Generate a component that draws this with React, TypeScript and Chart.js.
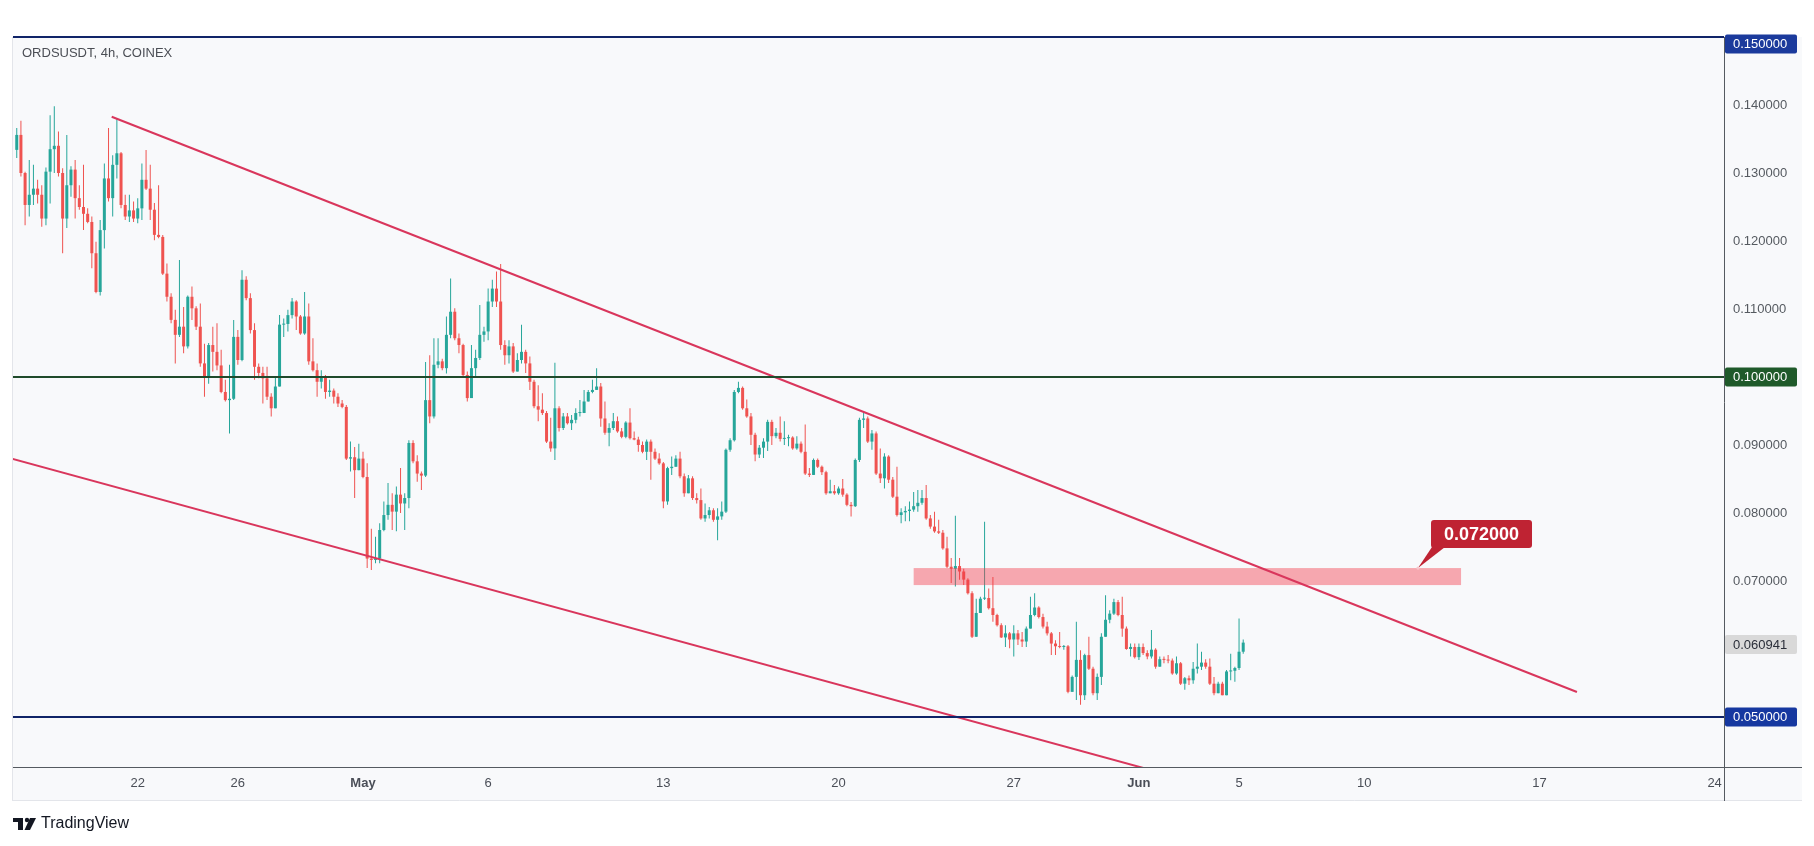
import React, { useEffect, useRef } from "react";
import { Chart, registerables } from "chart.js";

Chart.register(...registerables);

// ---- time axis: days relative to May 1 00:00, 4h bars ----
const firstBarDay = -14 + 1 / 6; // Apr 17 04:00
const barStepDays = 1 / 6;
const firstOpen = 0.1334;

const closes = [
  0.1356, 0.1300, 0.1253, 0.1268, 0.1277, 0.1268, 0.1233, 0.1302, 0.1335, 0.1340,
  0.1300, 0.1233, 0.1282, 0.1305, 0.1263, 0.1250, 0.1240, 0.1228, 0.1182, 0.1125,
  0.1216, 0.1292, 0.1263, 0.1312, 0.1329, 0.1253, 0.1236, 0.1245, 0.1233, 0.1248,
  0.1290, 0.1277, 0.1246, 0.1209, 0.1206, 0.1152, 0.1118, 0.1084, 0.1062, 0.1074,
  0.1045, 0.1118, 0.1101, 0.1074, 0.1020, 0.1001, 0.1047, 0.1037, 0.1017, 0.0978,
  0.0966, 0.0968, 0.1059, 0.1025, 0.1143, 0.1116, 0.1069, 0.1015, 0.1006, 0.0998,
  0.0971, 0.0954, 0.0986, 0.1077, 0.1078, 0.1091, 0.1111, 0.1089, 0.1064, 0.1089,
  0.1023, 0.1010, 0.0993, 0.1000, 0.0978, 0.0980, 0.0971, 0.0961, 0.0956, 0.0880,
  0.0882, 0.0863, 0.0880, 0.0853, 0.0733, 0.0731, 0.0733, 0.0775, 0.0797, 0.0812,
  0.0802, 0.0827, 0.0814, 0.0822, 0.0903, 0.0876, 0.0858, 0.0855, 0.0966, 0.0942,
  0.1018, 0.1023, 0.1013, 0.1062, 0.1096, 0.1057, 0.1047, 0.1003, 0.0969, 0.1013,
  0.1028, 0.1062, 0.1067, 0.1111, 0.1130, 0.1111, 0.1047, 0.1032, 0.1045, 0.1008,
  0.1025, 0.1037, 0.1020, 0.0993, 0.0957, 0.0952, 0.0947, 0.0905, 0.0895, 0.0954,
  0.0925, 0.0942, 0.0932, 0.0937, 0.0947, 0.0947, 0.0964, 0.0978, 0.0981, 0.0986,
  0.0939, 0.0918, 0.0925, 0.0935, 0.0920, 0.0912, 0.0933, 0.0910, 0.0908, 0.0900,
  0.0890, 0.0905, 0.0890, 0.0880, 0.0873, 0.0817, 0.0866, 0.0868, 0.0880, 0.0854,
  0.0829, 0.0851, 0.0822, 0.0819, 0.0792, 0.0797, 0.0804, 0.0790, 0.0795, 0.0802,
  0.0893, 0.0907, 0.0978, 0.0984, 0.0954, 0.0942, 0.0915, 0.0886, 0.0896, 0.0905,
  0.0934, 0.0913, 0.0918, 0.0909, 0.0910, 0.0911, 0.0895, 0.0902, 0.0890, 0.0858,
  0.0856, 0.0878, 0.0868, 0.0860, 0.0829, 0.0832, 0.0829, 0.0836, 0.0827, 0.0812,
  0.0810, 0.0878, 0.0937, 0.0939, 0.0905, 0.0917, 0.0858, 0.0851, 0.0883, 0.0849,
  0.0824, 0.0797, 0.0801, 0.0803, 0.0805, 0.0810, 0.0815, 0.0822, 0.0792, 0.0780,
  0.0773, 0.0771, 0.0748, 0.0721, 0.0718, 0.0722, 0.0714, 0.0702, 0.0682, 0.0618,
  0.0653, 0.0674, 0.0675, 0.0660, 0.0650, 0.0635, 0.0617, 0.0623, 0.0614, 0.0623,
  0.0614, 0.0611, 0.0630, 0.0650, 0.0661, 0.0647, 0.0633, 0.0623, 0.0608, 0.0604,
  0.0603, 0.0604, 0.0537, 0.0559, 0.0584, 0.0532, 0.0591, 0.0571, 0.0535, 0.0559,
  0.0618, 0.0643, 0.0652, 0.0669, 0.0650, 0.0630, 0.0600, 0.0603, 0.0588, 0.0603,
  0.0594, 0.0589, 0.0599, 0.0574, 0.0585, 0.0584, 0.0583, 0.0564, 0.0579, 0.0549,
  0.0557, 0.0554, 0.0571, 0.0574, 0.0580, 0.0574, 0.0549, 0.0535, 0.0549, 0.0532,
  0.0567, 0.0568, 0.0572, 0.0596, 0.060941,
];

const highs = [
  0.1366, 0.1377, 0.1302, 0.1319, 0.1312, 0.1290, 0.1282, 0.1308, 0.1385, 0.1398,
  0.1361, 0.1307, 0.1356, 0.1310, 0.1319, 0.1282, 0.1312, 0.1248, 0.1236, 0.1199,
  0.1231, 0.1314, 0.1366, 0.1326, 0.1380, 0.1331, 0.1268, 0.1268, 0.1258, 0.1263,
  0.1314, 0.1334, 0.1312, 0.1256, 0.1282, 0.1209, 0.1167, 0.1123, 0.1099, 0.1172,
  0.1103, 0.1120, 0.1133, 0.1104, 0.1108, 0.1049, 0.1050, 0.1074, 0.1079, 0.1040,
  0.0996, 0.1018, 0.1084, 0.1069, 0.1157, 0.1148, 0.1123, 0.1079, 0.1020, 0.1015,
  0.1015, 0.0976, 0.1000, 0.1091, 0.1086, 0.1099, 0.1116, 0.1113, 0.1091, 0.1125,
  0.1108, 0.1057, 0.1020, 0.1010, 0.1003, 0.0996, 0.0983, 0.0976, 0.0966, 0.0959,
  0.0905, 0.0897, 0.0902, 0.0890, 0.0873, 0.0777, 0.0765, 0.0785, 0.0817, 0.0844,
  0.0829, 0.0839, 0.0866, 0.0829, 0.0907, 0.0907, 0.0885, 0.0861, 0.1022, 0.1032,
  0.1057, 0.1057, 0.1027, 0.1089, 0.1145, 0.1101, 0.1064, 0.1049, 0.1008, 0.1047,
  0.1040, 0.1106, 0.1074, 0.1130, 0.1143, 0.1155, 0.1166, 0.1054, 0.1054, 0.1050,
  0.1035, 0.1077, 0.1040, 0.1030, 0.0996, 0.0988, 0.0976, 0.0950, 0.0940, 0.1021,
  0.0957, 0.0947, 0.0947, 0.0944, 0.0954, 0.0966, 0.0981, 0.0981, 0.0996, 0.1013,
  0.0991, 0.0964, 0.0932, 0.0947, 0.0942, 0.0925, 0.0935, 0.0954, 0.0920, 0.0912,
  0.0905, 0.0908, 0.0908, 0.0895, 0.0888, 0.0875, 0.0868, 0.0883, 0.0885, 0.0890,
  0.0858, 0.0856, 0.0854, 0.0829, 0.0836, 0.0814, 0.0809, 0.0807, 0.0807, 0.0817,
  0.0895, 0.0910, 0.0981, 0.0993, 0.0986, 0.0967, 0.0947, 0.0918, 0.0900, 0.0910,
  0.0937, 0.0937, 0.0925, 0.0942, 0.0935, 0.0915, 0.0913, 0.0913, 0.0905, 0.0930,
  0.0866, 0.0880, 0.0880, 0.0870, 0.0862, 0.0849, 0.0841, 0.0839, 0.0850, 0.0829,
  0.0816, 0.0880, 0.0940, 0.0949, 0.0942, 0.0922, 0.0920, 0.0895, 0.0888, 0.0885,
  0.0853, 0.0868, 0.0807, 0.0810, 0.0817, 0.0831, 0.0834, 0.0834, 0.0841, 0.0797,
  0.0802, 0.0790, 0.0775, 0.0765, 0.0734, 0.0796, 0.0734, 0.0718, 0.0704, 0.0685,
  0.0674, 0.0677, 0.0787, 0.0689, 0.0706, 0.0652, 0.0638, 0.0635, 0.0625, 0.0635,
  0.0628, 0.0625, 0.0633, 0.0677, 0.0682, 0.0663, 0.0652, 0.0640, 0.0625, 0.0613,
  0.0625, 0.0606, 0.0606, 0.0561, 0.0640, 0.0598, 0.0593, 0.0618, 0.0574, 0.0564,
  0.0623, 0.0679, 0.0657, 0.0674, 0.0672, 0.0677, 0.0633, 0.0608, 0.0608, 0.0608,
  0.0608, 0.0598, 0.0628, 0.0601, 0.0589, 0.0589, 0.0591, 0.0586, 0.0589, 0.0581,
  0.0559, 0.0561, 0.0581, 0.0608, 0.0596, 0.0585, 0.0586, 0.0559, 0.0552, 0.0552,
  0.0569, 0.0593, 0.0574, 0.0645, 0.0614,
];

const lows = [
  0.1322, 0.1295, 0.1223, 0.1236, 0.1253, 0.1255, 0.1221, 0.1223, 0.1255, 0.1300,
  0.1295, 0.1182, 0.1219, 0.1265, 0.1233, 0.1246, 0.1216, 0.1226, 0.1160, 0.1123,
  0.1120, 0.1189, 0.1258, 0.1236, 0.1292, 0.1248, 0.1231, 0.1228, 0.1228, 0.1226,
  0.1231, 0.1275, 0.1231, 0.1201, 0.1204, 0.1150, 0.1111, 0.1079, 0.1020, 0.1059,
  0.1035, 0.1042, 0.1084, 0.1069, 0.1015, 0.0971, 0.0990, 0.1008, 0.1010, 0.0976,
  0.0964, 0.0917, 0.0966, 0.1018, 0.1023, 0.1113, 0.1064, 0.0996, 0.0998, 0.0961,
  0.0966, 0.0942, 0.0954, 0.0986, 0.1059, 0.1067, 0.1086, 0.1069, 0.1062, 0.1062,
  0.1018, 0.1008, 0.0971, 0.0983, 0.0968, 0.0971, 0.0961, 0.0956, 0.0954, 0.0878,
  0.0861, 0.0822, 0.0863, 0.0851, 0.0719, 0.0716, 0.0726, 0.0726, 0.0773, 0.0790,
  0.0775, 0.0773, 0.0800, 0.0775, 0.0807, 0.0873, 0.0846, 0.0834, 0.0853, 0.0932,
  0.0939, 0.1013, 0.1010, 0.1005, 0.1057, 0.1054, 0.1035, 0.1001, 0.0964, 0.0971,
  0.1000, 0.1025, 0.1052, 0.1054, 0.1103, 0.1103, 0.1040, 0.1018, 0.1020, 0.1006,
  0.1008, 0.1020, 0.1006, 0.0981, 0.0954, 0.0935, 0.0944, 0.0903, 0.0890, 0.0878,
  0.0920, 0.0922, 0.0930, 0.0922, 0.0932, 0.0942, 0.0947, 0.0964, 0.0976, 0.0981,
  0.0927, 0.0915, 0.0898, 0.0922, 0.0918, 0.0910, 0.0910, 0.0908, 0.0907, 0.0890,
  0.0888, 0.0878, 0.0849, 0.0878, 0.0871, 0.0807, 0.0812, 0.0856, 0.0868, 0.0851,
  0.0824, 0.0834, 0.0819, 0.0814, 0.0790, 0.0787, 0.0792, 0.0787, 0.0760, 0.0790,
  0.0800, 0.0890, 0.0905, 0.0976, 0.0952, 0.0940, 0.0900, 0.0876, 0.0881, 0.0881,
  0.0891, 0.0900, 0.0910, 0.0905, 0.0900, 0.0898, 0.0893, 0.0893, 0.0888, 0.0856,
  0.0853, 0.0856, 0.0866, 0.0856, 0.0827, 0.0829, 0.0827, 0.0827, 0.0824, 0.0810,
  0.0795, 0.0809, 0.0875, 0.0925, 0.0903, 0.0893, 0.0856, 0.0844, 0.0836, 0.0844,
  0.0822, 0.0795, 0.0785, 0.0788, 0.0788, 0.0802, 0.0802, 0.0812, 0.0790, 0.0777,
  0.0771, 0.0769, 0.0746, 0.0719, 0.0697, 0.0692, 0.0702, 0.0694, 0.0680, 0.0616,
  0.0618, 0.0653, 0.0672, 0.0658, 0.0640, 0.0633, 0.0616, 0.0603, 0.0601, 0.0589,
  0.0606, 0.0603, 0.0603, 0.0630, 0.0648, 0.0645, 0.0630, 0.0620, 0.0591, 0.0591,
  0.0601, 0.0599, 0.0535, 0.0537, 0.0525, 0.0518, 0.0525, 0.0569, 0.0532, 0.0525,
  0.0547, 0.0618, 0.0638, 0.0650, 0.0648, 0.0618, 0.0599, 0.0589, 0.0586, 0.0584,
  0.0591, 0.0585, 0.0586, 0.0571, 0.0574, 0.0579, 0.0579, 0.0562, 0.0562, 0.0547,
  0.0540, 0.0547, 0.0549, 0.0564, 0.0569, 0.0571, 0.0547, 0.0532, 0.0535, 0.0532,
  0.0532, 0.0554, 0.0552, 0.0569, 0.0593,
];

const xTickDays = [-9, -5, 0, 5, 12, 19, 26, 31, 35, 40, 47, 54];
const xTickLabels = ["22", "26", "May", "6", "13", "20", "27", "Jun", "5", "10", "17", "24"];
const yTickValues = [0.07, 0.08, 0.09, 0.11, 0.12, 0.13, 0.14];

const levelPrices = [0.15, 0.1, 0.05];
const levelLineColors = ["#102468", "#1f4a2b", "#102468"];
const levelLabelColors = ["#1b3a9c", "#1f5a2a", "#1638a0"];

const upperTrendDays = [-10.04, 48.5];
const upperTrendPrices = [0.13828, 0.05368];
const lowerTrendDays = [-14, 33];
const lowerTrendPrices = [0.08795, 0.04067];

const zoneDays = [22.0, 43.87];
const zonePrices = [0.0694, 0.0719];
const calloutText = "0.072000";
const calloutDay = 42.15;
const calloutPrice = 0.0719;
const lastPrice = 0.060941;

const titleText = "ORDSUSDT, 4h, COINEX";

const X_MIN = -13.983;
const X_MAX = 54.375;
const Y_MIN = 0.042647;
const Y_MAX = 0.15;

const UP = "#26a69a";
const DOWN = "#ef5350";
const TREND = "#d9365c";
const FONT = "'Liberation Sans', Arial, sans-serif";

function roundRect(ctx: CanvasRenderingContext2D, x: number, y: number, w: number, h: number, r: number) {
  ctx.beginPath();
  ctx.moveTo(x + r, y);
  ctx.lineTo(x + w - r, y);
  ctx.quadraticCurveTo(x + w, y, x + w, y + r);
  ctx.lineTo(x + w, y + h - r);
  ctx.quadraticCurveTo(x + w, y + h, x + w - r, y + h);
  ctx.lineTo(x + r, y + h);
  ctx.quadraticCurveTo(x, y + h, x, y + h - r);
  ctx.lineTo(x, y + r);
  ctx.quadraticCurveTo(x, y, x + r, y);
  ctx.closePath();
}

export default function App() {
  const canvasRef = useRef<HTMLCanvasElement | null>(null);

  useEffect(() => {
    const canvas = canvasRef.current;
    if (!canvas) return;

    const opens = closes.map((c, i) => (i === 0 ? firstOpen : closes[i - 1]));
    const days = closes.map((_, i) => firstBarDay + i * barStepDays);
    const colors = closes.map((c, i) => (c >= opens[i] ? UP : DOWN));

    const bodyData = closes.map((c, i) => ({ x: days[i], y: [opens[i], c] }));
    const wickData = closes.map((c, i) => ({
      x: days[i],
      y: [Math.min(lows[i], opens[i], c), Math.max(highs[i], opens[i], c)],
    }));

    const levelDatasets = levelPrices.map((p, i) => ({
      type: "line" as const,
      data: [
        { x: X_MIN, y: p },
        { x: X_MAX, y: p },
      ],
      borderColor: levelLineColors[i],
      borderWidth: 2,
      pointRadius: 0,
      fill: false,
      clip: 3,
      order: 0,
    }));

    const decorations = {
      id: "decorations",
      beforeDraw(chart: any) {
        const ctx = chart.ctx as CanvasRenderingContext2D;
        ctx.save();
        ctx.fillStyle = "#ffffff";
        ctx.fillRect(0, 0, chart.width, chart.height);
        ctx.fillStyle = "#f8f9fb";
        ctx.fillRect(12, 37, 1790, 764);
        ctx.strokeStyle = "#e3e5ea";
        ctx.lineWidth = 1;
        ctx.beginPath();
        ctx.moveTo(12.5, 37);
        ctx.lineTo(12.5, 801);
        ctx.moveTo(12, 800.5);
        ctx.lineTo(1802, 800.5);
        ctx.stroke();
        ctx.restore();
      },
      afterDatasetDraw(chart: any, args: any) {
        if (args.index !== 0) return;
        const ctx = chart.ctx as CanvasRenderingContext2D;
        const xs = chart.scales.x;
        const ys = chart.scales.y;
        const x1 = xs.getPixelForValue(zoneDays[0]);
        const x2 = xs.getPixelForValue(zoneDays[1]);
        const y1 = ys.getPixelForValue(zonePrices[1]);
        const y2 = ys.getPixelForValue(zonePrices[0]);
        ctx.save();
        ctx.fillStyle = "rgba(242, 54, 69, 0.42)";
        ctx.fillRect(x1, y1, x2 - x1, y2 - y1);
        ctx.restore();
      },
      afterDraw(chart: any) {
        const ctx = chart.ctx as CanvasRenderingContext2D;
        const xs = chart.scales.x;
        const ys = chart.scales.y;
        const area = chart.chartArea;
        ctx.save();

        // axis line extensions
        ctx.strokeStyle = "#555a60";
        ctx.lineWidth = 1;
        ctx.beginPath();
        ctx.moveTo(area.right, Math.round(area.bottom) + 0.5);
        ctx.lineTo(1802, Math.round(area.bottom) + 0.5);
        ctx.moveTo(Math.round(area.right) + 0.5, area.bottom);
        ctx.lineTo(Math.round(area.right) + 0.5, 801);
        ctx.stroke();

        // title
        ctx.fillStyle = "#4b4e55";
        ctx.font = `13px ${FONT}`;
        ctx.textBaseline = "middle";
        ctx.textAlign = "left";
        ctx.fillText(titleText, 22, 53);

        // price labels on the axis
        const drawAxisLabel = (text: string, cy: number, bg: string, fg: string) => {
          ctx.fillStyle = bg;
          roundRect(ctx, area.right + 1, cy - 9.5, 72, 19, 2);
          ctx.fill();
          ctx.fillStyle = fg;
          ctx.font = `13px ${FONT}`;
          ctx.textAlign = "left";
          ctx.textBaseline = "middle";
          ctx.fillText(text, area.right + 9, cy + 0.5);
        };
        levelPrices.forEach((p, i) => {
          let cy = ys.getPixelForValue(p);
          if (cy - 9.5 < area.top - 2) cy = area.top + 7;
          drawAxisLabel(p.toFixed(6), cy, levelLabelColors[i], "#ffffff");
        });
        drawAxisLabel(lastPrice.toFixed(6), ys.getPixelForValue(lastPrice) + 2, "#d9d9d9", "#2a2e39");

        // callout
        const ax = xs.getPixelForValue(calloutDay);
        const ay = ys.getPixelForValue(calloutPrice);
        const bx = ax + 13;
        const by = ay - 48;
        const bw = 101;
        const bh = 28;
        ctx.fillStyle = "#bf2333";
        roundRect(ctx, bx, by, bw, bh, 3);
        ctx.fill();
        ctx.beginPath();
        ctx.moveTo(bx + 1, by + bh - 1);
        ctx.lineTo(bx + 14, by + bh - 1);
        ctx.lineTo(ax, ay);
        ctx.closePath();
        ctx.fill();
        ctx.beginPath();
        ctx.arc(ax, ay, 1.6, 0, Math.PI * 2);
        ctx.fillStyle = "#f7c6cc";
        ctx.fill();
        ctx.fillStyle = "#ffffff";
        ctx.font = `bold 18px ${FONT}`;
        ctx.textAlign = "center";
        ctx.textBaseline = "middle";
        ctx.fillText(calloutText, bx + bw / 2, by + bh / 2 + 1);

        // TradingView logo
        ctx.fillStyle = "#131722";
        ctx.fillRect(13, 818, 10, 4);
        ctx.fillRect(18, 818, 5, 12);
        ctx.beginPath();
        ctx.arc(27, 820, 2.2, 0, Math.PI * 2);
        ctx.fill();
        ctx.beginPath();
        ctx.moveTo(30, 818);
        ctx.lineTo(36, 818);
        ctx.lineTo(30, 830);
        ctx.lineTo(24.5, 830);
        ctx.closePath();
        ctx.fill();
        ctx.font = `16px ${FONT}`;
        ctx.textAlign = "left";
        ctx.textBaseline = "middle";
        ctx.fillText("TradingView", 41, 824);

        ctx.restore();
      },
    };

    const chart = new Chart(canvas, {
      type: "bar",
      data: {
        datasets: [
          {
            type: "bar",
            data: bodyData as any,
            backgroundColor: colors,
            barThickness: 3,
            minBarLength: 1,
            grouped: false,
            inflateAmount: 0,
            order: 2,
          } as any,
          {
            type: "bar",
            data: wickData as any,
            backgroundColor: colors,
            barThickness: 1,
            grouped: false,
            inflateAmount: 0,
            order: 3,
          } as any,
          ...levelDatasets,
          {
            type: "line",
            data: upperTrendDays.map((d, i) => ({ x: d, y: upperTrendPrices[i] })),
            borderColor: TREND,
            borderWidth: 2,
            pointRadius: 0,
            fill: false,
            order: 0,
          },
          {
            type: "line",
            data: lowerTrendDays.map((d, i) => ({ x: d, y: lowerTrendPrices[i] })),
            borderColor: TREND,
            borderWidth: 2,
            pointRadius: 0,
            fill: false,
            order: 0,
          },
        ] as any,
      },
      options: {
        responsive: false,
        animation: false,
        devicePixelRatio: 1,
        layout: { padding: { left: 13, top: 37, right: 0, bottom: 45 } },
        plugins: {
          legend: { display: false },
          tooltip: { enabled: false },
        },
        scales: {
          x: {
            type: "linear",
            min: X_MIN,
            max: X_MAX,
            offset: false,
            grid: { display: false, drawTicks: false },
            border: { display: true, color: "#555a60", width: 1 },
            afterBuildTicks: (scale: any) => {
              scale.ticks = xTickDays.map((v) => ({ value: v }));
            },
            afterFit: (scale: any) => {
              scale.height = 34;
            },
            ticks: {
              autoSkip: false,
              maxRotation: 0,
              minRotation: 0,
              padding: 9,
              color: "#4a4e57",
              font: (c: any) => ({
                family: FONT,
                size: 13,
                weight: /^[A-Za-z]/.test(xTickLabels[c.index] || "") ? "bold" : "normal",
              }),
              callback: (_v: any, i: number) => xTickLabels[i],
            },
          },
          y: {
            type: "linear",
            position: "right",
            min: Y_MIN,
            max: Y_MAX,
            beginAtZero: false,
            grid: { display: false, drawTicks: false },
            border: { display: true, color: "#555a60", width: 1 },
            afterBuildTicks: (scale: any) => {
              scale.ticks = yTickValues.map((v) => ({ value: v }));
            },
            afterFit: (scale: any) => {
              scale.width = 90;
            },
            ticks: {
              padding: 9,
              color: "#555a60",
              font: { family: FONT, size: 13 },
              callback: (v: any) => Number(v).toFixed(6),
            },
          },
        },
      } as any,
      plugins: [decorations],
    });

    return () => chart.destroy();
  }, []);

  return (
    <div style={{ position: "fixed", left: 0, top: 0, width: 1814, height: 846, background: "#ffffff" }}>
      <canvas ref={canvasRef} width={1814} height={846} style={{ width: 1814, height: 846, display: "block" }} />
    </div>
  );
}
